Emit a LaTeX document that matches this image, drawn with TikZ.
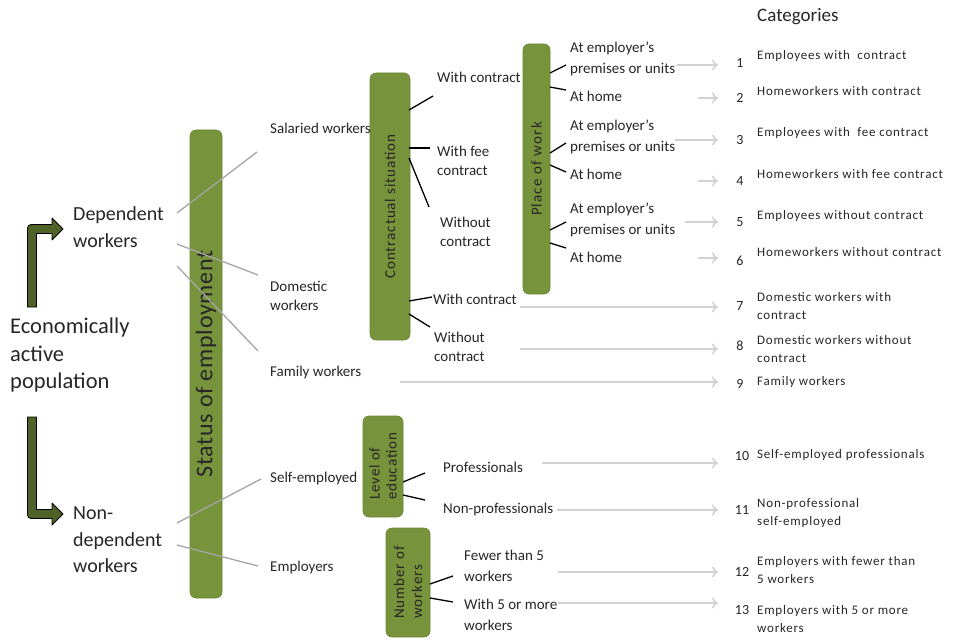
\documentclass[tikz,border=0pt]{standalone}
\usepackage{fontspec}
\setmainfont{Carlito}
\usetikzlibrary{arrows.meta}
\definecolor{barfill}{HTML}{77933C}
\definecolor{barline}{HTML}{6A8534}
\definecolor{arrowfill}{HTML}{4F6228}
\definecolor{txt}{HTML}{262626}
\definecolor{linkgray}{HTML}{A6A6A6}
\definecolor{catgray}{HTML}{D2D2D2}
\newcommand{\fsz}[2]{\fontsize{#1}{#2}\selectfont}
\newcommand{\wide}[1]{\addfontfeatures{LetterSpace=#1}}

\begin{document}
\begin{tikzpicture}[x=1pt,y=-1pt,
  bar/.style={rectangle, rounded corners=6pt, fill=barfill, draw=barline, line width=0.6pt,
              rotate=90, inner sep=0pt, text=txt, align=left},
  lbl/.style={anchor=west, inner sep=0pt, align=left, text=txt, font=\fsz{15}{19}},
  cat/.style={anchor=west, inner sep=0pt, align=left, text=txt, font=\fsz{13}{18}\wide{6}},
  num/.style={inner sep=0pt, text=txt, font=\fsz{14}{17}},
  feed/.style={draw=linkgray, line width=1.3pt},
  branch/.style={draw=black, line width=1.3pt},
  tocat/.style={draw=catgray, line width=1.6pt, -{To[length=6pt,width=11pt]}},
  bigarrow/.style={fill=arrowfill, draw=black, line width=0.8pt, line join=round}
]
\useasboundingbox (0,0) rectangle (957,639);

% ---------- left column ----------
\node[anchor=west, inner sep=0pt, align=left, text=txt, font=\fsz{22.5}{27.5}] (eap) at (10,355)
  {Economically\\active\\population};
\node[anchor=west, inner sep=0pt, align=left, text=txt, font=\fsz{20}{27}] (dep) at (73,227)
  {Dependent\\workers};
\node[anchor=west, inner sep=0pt, align=left, text=txt, font=\fsz{20}{26.5}] (ndep) at (73,540)
  {Non-\\dependent\\workers};

% bent block arrows
\path[bigarrow] (27.5,307) -- (27.5,232.5) .. controls (27.5,224.5) .. (35.5,224.5)
  -- (52,224.5) -- (52,218) -- (63,229) -- (52,240) -- (52,233.5)
  -- (36.5,233.5) -- (36.5,307) -- cycle;
\path[bigarrow] (27.5,417) -- (27.5,510.5) .. controls (27.5,518.5) .. (35.5,518.5)
  -- (52,518.5) -- (52,525) -- (63,514) -- (52,503) -- (52,509.5)
  -- (36.5,509.5) -- (36.5,417) -- cycle;

% ---------- bars ----------
\node[bar, minimum width=468pt, minimum height=32pt, font=\fsz{24}{26}\wide{3}] (soe) at (206,364)
  {Status of employment};
\node[bar, minimum width=267pt, minimum height=40pt, font=\fsz{15}{16}\wide{6}] (cs) at (390,206.5)
  {Contractual situation};
\node[bar, minimum width=250pt, minimum height=27pt, font=\fsz{15}{16}\wide{8}] (pw) at (536.5,169)
  {Place of work};
\node[bar, minimum width=101pt, minimum height=40pt, font=\fsz{15}{17}\wide{6}] (le) at (383,466.5)
  {Level of\\education};
\node[bar, minimum width=109pt, minimum height=44pt, font=\fsz{15}{18}\wide{6}] (nw) at (408,582.5)
  {Number of\\workers};

% ---------- status labels ----------
\node[lbl] (sal)  at (270,128) {Salaried workers};
\node[lbl] (dom)  at (270,296) {Domestic\\workers};
\node[lbl] (fam)  at (270,372) {Family workers};
\node[lbl] (self) at (270,478) {Self-employed};
\node[lbl] (emp)  at (270,567) {Employers};

% ---------- contract labels ----------
\node[lbl] (wc1)  at (437,77)  {With contract};
\node[lbl] (wfc)  at (437,161) {With fee\\contract};
\node[lbl] (woc1) at (440,232) {Without\\contract};
\node[lbl] (wc2)  at (433,299) {With contract};
\node[lbl] (woc2) at (434,347) {Without\\contract};

% ---------- place labels ----------
\node[lbl, font=\fsz{15}{21}] (pe1) at (570,59)  {At employer’s\\premises or units};
\node[lbl] (ph1) at (570,96)  {At home};
\node[lbl, font=\fsz{15}{21}] (pe2) at (570,137) {At employer’s\\premises or units};
\node[lbl] (ph2) at (570,174) {At home};
\node[lbl, font=\fsz{15}{21}] (pe3) at (570,220) {At employer’s\\premises or units};
\node[lbl] (ph3) at (570,257) {At home};

% ---------- education / size labels ----------
\node[lbl] (prof)  at (443,467) {Professionals};
\node[lbl] (nprof) at (443,509) {Non-professionals};
\node[lbl, font=\fsz{15}{21}] (few)  at (464,566) {Fewer than 5\\workers};
\node[lbl, font=\fsz{15}{21}] (more) at (464,615) {With 5 or more\\workers};

% ---------- categories ----------
\node[anchor=west, inner sep=0pt, text=txt, font=\fsz{19}{20}] (cathead) at (757,17) {Categories};
\foreach \n/\y in {1/63,2/98,3/140,4/181,5/222,6/261,7/306,8/346,9/384}
  \node[num] (n\n) at (740,\y) {\n};
\foreach \n/\y in {10/456,11/510,12/572,13/610}
  \node[num] (n\n) at (742,\y) {\n};

\node[cat] (c1)  at (757,56)  {Employees with\ \ contract};
\node[cat] (c2)  at (757,91)  {Homeworkers with contract};
\node[cat] (c3)  at (757,133) {Employees with\ \ fee contract};
\node[cat] (c4)  at (757,174) {Homeworkers with fee contract};
\node[cat] (c5)  at (757,216) {Employees without contract};
\node[cat] (c6)  at (757,252) {Homeworkers without contract};
\node[cat] (c7)  at (757,306) {Domestic workers with\\contract};
\node[cat] (c8)  at (757,349) {Domestic workers without\\contract};
\node[cat] (c9)  at (757,382) {Family workers};
\node[cat] (c10) at (757,455) {Self-employed professionals};
\node[cat] (c11) at (757,513) {Non-professional\\self-employed};
\node[cat] (c12) at (757,570) {Employers with fewer than\\5 workers};
\node[cat] (c13) at (757,619) {Employers with 5 or more\\workers};

% ---------- connector end points ----------
\foreach \n/\x/\y in {
  d1/177/213, d1e/257/152, d2/177/244, d2e/258/275, d3/177/266, d3e/258/351,
  s1/177/523, s1e/261/479, s2/177/545, s2e/258/566,
  b1/409/110, b1e/433/96, b2/409/148, b2e/430/148, b3/409/158, b3e/429/207,
  b4/409/301, b4e/432/297, b5/409/314, b5e/430/327,
  p1/550/73, p1e/566/65, p2/550/87, p2e/566/90, p3/550/153, p3e/566/143,
  p4/550/165, p4e/566/172, p5/550/230, p5e/566/222, p6/550/243, p6e/566/248,
  e1/403/482, e1e/425/473, e2/403/495, e2e/425/500,
  w1/430/584, w1e/453/576, w2/430/598, w2e/453/602,
  a1/677/65, a2/698/98, a3/675/140, a4/698/181, a5/685/222, a6/698/258,
  a7/520/307, a8/520/349, a9/400/382, a10/542/463, a11/557/510, a12/558/572, a13/558/603}
  \coordinate (\n) at (\x,\y);
\coordinate (tip) at (718,0);

% ---------- connectors ----------
% population split (grey)
\foreach \s in {d1,d2,d3,s1,s2}
  \draw[feed] (\s) -- (\s e);
% sub-classification branches (black)
\foreach \s in {b1,b2,b3,b4,b5,p1,p2,p3,p4,p5,p6,e1,e2,w1,w2}
  \draw[branch] (\s) -- (\s e);
% arrows to the numbered categories
\foreach \s in {a1,a2,a3,a4,a5,a6,a7,a8,a9,a10,a11,a12,a13}
  \draw[tocat] (\s) -- (\s -| tip);
\end{tikzpicture}
\end{document}
